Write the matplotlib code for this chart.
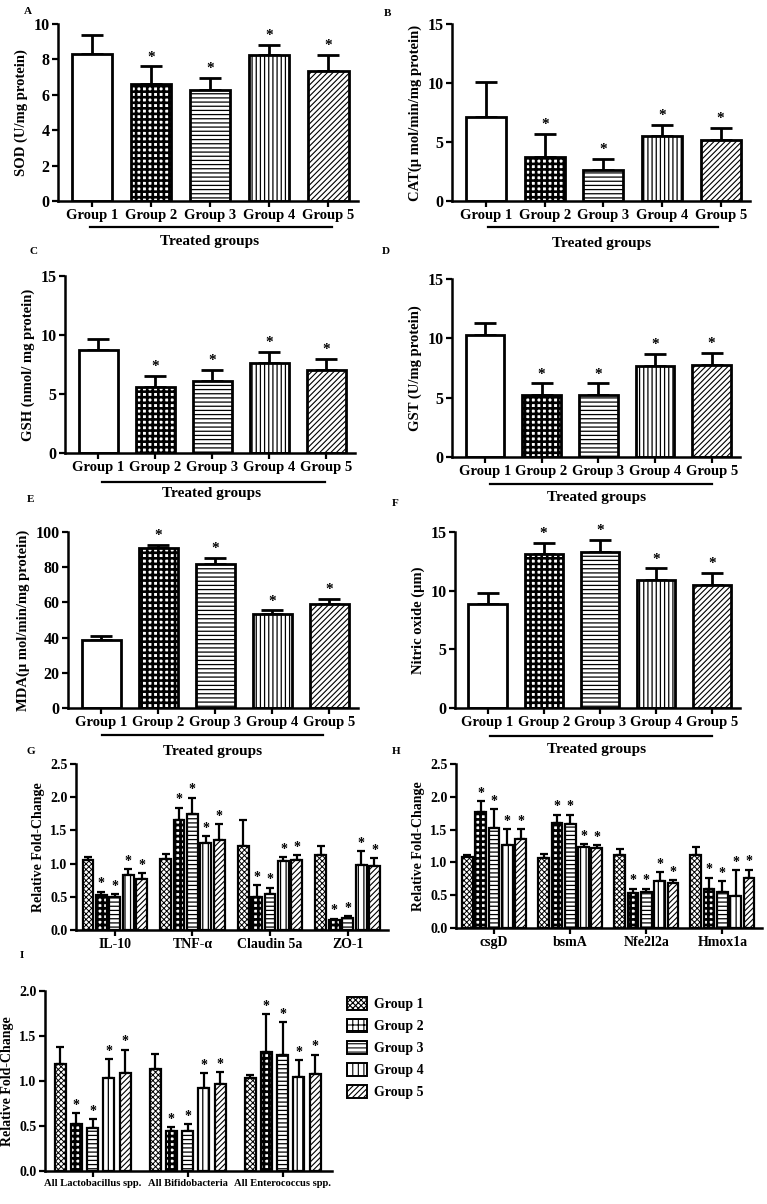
import matplotlib.pyplot as plt
import numpy as np
from matplotlib.patches import Patch

plt.rcParams['font.family'] = ['Liberation Serif', 'DejaVu Serif']
plt.rcParams['font.weight'] = 'bold'
plt.rcParams['axes.labelweight'] = 'bold'
plt.rcParams['hatch.linewidth'] = 0.9

W, H = 767, 1204

groups = ['Group 1', 'Group 2', 'Group 3', 'Group 4', 'Group 5']

# panels A-F : mean and upper SD
sod = [8.3, 6.6, 6.25, 8.25, 7.35]
sod_err = [1.1, 1.0, 0.7, 0.55, 0.9]
cat = [7.1, 3.7, 2.65, 5.5, 5.2]
cat_err = [3.0, 2.0, 0.95, 0.95, 1.0]
gsh = [8.7, 5.6, 6.1, 7.6, 7.05]
gsh_err = [0.95, 0.95, 0.95, 1.0, 0.95]
gst = [10.3, 5.25, 5.25, 7.7, 7.75]
gst_err = [1.0, 0.95, 0.95, 1.0, 1.0]
mda = [38.7, 91.0, 82.0, 53.4, 58.9]
mda_err = [2.0, 1.8, 3.4, 2.0, 3.0]
nitric = [8.84, 13.1, 13.3, 10.9, 10.5]
nitric_err = [1.0, 1.0, 1.0, 1.0, 1.0]

# panel G
genes_g = ['IL-10', 'TNF-α', 'Claudin 5a', 'ZO-1']
il10 = [1.05, 0.525, 0.50, 0.83, 0.77]
il10_err = [0.05, 0.05, 0.04, 0.09, 0.09]
tnf = [1.075, 1.66, 1.74, 1.31, 1.35]
tnf_err = [0.065, 0.18, 0.25, 0.10, 0.24]
claudin = [1.26, 0.50, 0.535, 1.035, 1.05]
claudin_err = [0.39, 0.175, 0.10, 0.065, 0.075]
zo1 = [1.13, 0.15, 0.175, 0.975, 0.96]
zo1_err = [0.14, 0.02, 0.035, 0.21, 0.125]

# panel H
genes_h = ['csgD', 'bsmA', 'Nfe2l2a', 'Hmox1a']
csgd = [1.075, 1.775, 1.525, 1.26, 1.35]
csgd_err = [0.035, 0.16, 0.285, 0.25, 0.16]
bsma = [1.06, 1.6, 1.59, 1.24, 1.22]
bsma_err = [0.065, 0.125, 0.135, 0.035, 0.04]
nfe = [1.12, 0.54, 0.555, 0.715, 0.69]
nfe_err = [0.08, 0.06, 0.045, 0.14, 0.035]
hmox = [1.12, 0.6, 0.555, 0.49, 0.765]
hmox_err = [0.11, 0.165, 0.16, 0.39, 0.125]

# panel I
bact = ['All Lactobacillus spp.', 'All Bifidobacteria', 'All Enterococcus spp.']
lacto = [1.185, 0.52, 0.483, 1.03, 1.09]
lacto_err = [0.19, 0.125, 0.09, 0.21, 0.26]
bifido = [1.13, 0.44, 0.45, 0.92, 0.963]
bifido_err = [0.17, 0.05, 0.067, 0.17, 0.137]
entero = [1.037, 1.32, 1.284, 1.044, 1.074]
entero_err = [0.026, 0.425, 0.37, 0.185, 0.22]

hatch_af = ['', '+++', '----', '||||', '//////']
hatch_gi = ['xxxxxx', '+++', '----', '|||', '//////']
hlw_af = [0.9, 1.9, 0.9, 0.9, 0.8]
hlw_gi = [0.7, 2.0, 0.9, 0.9, 0.8]

fig = plt.figure(figsize=(W / 100, H / 100), dpi=100)


def px_axes(l, t, r, b):
    return fig.add_axes([l / W, 1 - b / H, (r - l) / W, (b - t) / H])


def hatched_bar(ax, x, h, w, hatch, hlw, lw):
    plt.rcParams['hatch.linewidth'] = hlw
    bars = ax.bar(x, h, w, color='white', edgecolor='k', lw=lw, hatch=hatch, zorder=2)
    for b in bars:
        if hasattr(b, 'set_hatch_linewidth'):
            b.set_hatch_linewidth(hlw)
    return bars


def style(ax, ymax, step, fmt='{:g}', fs=11):
    for s in ['top', 'right']:
        ax.spines[s].set_visible(False)
    for s in ['left', 'bottom']:
        ax.spines[s].set_linewidth(1.8)
    ax.set_ylim(0, ymax)
    ticks = np.arange(0, ymax + step / 2, step)
    ax.set_yticks(ticks)
    ax.set_yticklabels([fmt.format(t) for t in ticks], fontsize=fs)
    ax.tick_params(width=1.6, length=4, pad=2)


def fig_line(x0, x1, y):
    fig.add_artist(plt.Line2D([x0 / W, x1 / W], [1 - y / H, 1 - y / H], color='k', lw=1.6))


def fig_text(x, y, s, **kw):
    fig.text(x / W, 1 - y / H, s, ha='center', va='center', **kw)


def simple_panel(box, vals, errs, ymax, step, ylabel, letter, line, treated):
    ax = px_axes(*box)
    x = np.arange(5)
    for i in range(5):
        hatched_bar(ax, x[i], vals[i], 0.68, hatch_af[i], hlw_af[i], 2)
    ax.errorbar(x, vals, yerr=[np.zeros(5), errs], fmt='none', ecolor='k',
                elinewidth=2, capsize=8, capthick=2, zorder=1)
    for i in range(1, 5):
        ax.annotate('*', (x[i], vals[i] + errs[i]), xytext=(0, 2), textcoords='offset points',
                    ha='center', va='bottom', fontsize=11)
    style(ax, ymax, step, fs=11.5)
    ax.set_xlim(-0.58, 4.5)
    ax.set_xticks(x)
    ax.set_xticklabels(groups, fontsize=10.5)
    ax.set_ylabel(ylabel, fontsize=10.5)
    fig_text(letter[0], letter[1], letter[2], fontsize=8)
    fig_line(line[0], line[1], line[2])
    fig_text(treated[0], treated[1], 'Treated groups', fontsize=11)
    return ax


simple_panel((58, 24, 358, 201), sod, sod_err, 10, 2, 'SOD (U/mg protein)',
             (28, 11, 'A'), (90, 332, 227), (210, 242))
simple_panel((452, 24, 750, 201), cat, cat_err, 15, 5, 'CAT(µ mol/min/mg protein)',
             (388, 14, 'B'), (488, 718, 227), (602, 243))
simple_panel((65, 276, 355, 453), gsh, gsh_err, 15, 5, 'GSH (nmol/ mg protein)',
             (33, 251, 'C'), (102, 325, 482), (212, 494))
simple_panel((452, 279, 740, 457), gst, gst_err, 15, 5, 'GST (U/mg protein)',
             (386, 251, 'D'), (490, 712, 484), (597, 498))
simple_panel((68, 532, 358, 708), mda, mda_err, 100, 20, 'MDA(µ mol/min/mg protein)',
             (31, 500, 'E'), (102, 323, 735), (213, 752))
simple_panel((455, 532, 740, 708), nitric, nitric_err, 15, 5, 'Nitric oxide (µm)',
             (395, 503, 'F'), (490, 712, 736), (597, 750))


def group_panel(box, cats, means, errs, ymax, step, width, stepx, lab_fs, letter):
    ax = px_axes(*box)
    means = np.array(means)
    errs = np.array(errs)
    c = np.arange(len(cats))
    for gi in range(5):
        xs = c + (gi - 2) * stepx
        hatched_bar(ax, xs, means[:, gi], width, hatch_gi[gi], hlw_gi[gi], 1.6)
        ax.errorbar(xs, means[:, gi], yerr=[np.zeros(len(cats)), errs[:, gi]], fmt='none',
                    ecolor='k', elinewidth=1.6, capsize=3, capthick=1.6, zorder=1)
        if gi > 0:
            for k in range(len(cats)):
                ax.annotate('*', (xs[k], means[k, gi] + errs[k, gi]), xytext=(0, 1),
                            textcoords='offset points', ha='center', va='bottom', fontsize=10)
    style(ax, ymax, step, '{:.1f}', fs=10)
    ax.set_xlim(-0.5, len(cats) - 0.48)
    ax.set_xticks(c)
    ax.set_xticklabels(cats, fontsize=lab_fs)
    ax.set_ylabel('Relative Fold-Change', fontsize=10)
    fig_text(letter[0], letter[1], letter[2], fontsize=8)
    return ax


group_panel((76, 764, 388, 930), genes_g, [il10, tnf, claudin, zo1],
            [il10_err, tnf_err, claudin_err, zo1_err], 2.5, 0.5, 0.14, 0.173, 10, (31, 751, 'G'))
group_panel((456, 764, 762, 928), genes_h, [csgd, bsma, nfe, hmox],
            [csgd_err, bsma_err, nfe_err, hmox_err], 2.5, 0.5, 0.14, 0.175, 10, (396, 751, 'H'))
axi = group_panel((45, 991, 332, 1171), bact, [lacto, bifido, entero],
                  [lacto_err, bifido_err, entero_err], 2.0, 0.5, 0.116, 0.171, 7.6, (22, 956, 'I'))

handles = []
for i in range(5):
    plt.rcParams['hatch.linewidth'] = hlw_gi[i]
    p = Patch(facecolor='white', edgecolor='k', lw=1.4, hatch=hatch_gi[i])
    if hasattr(p, 'set_hatch_linewidth'):
        p.set_hatch_linewidth(hlw_gi[i])
    handles.append(p)
fig.legend(handles, groups, loc='upper left', bbox_to_anchor=(334 / W, 1 - 984 / H),
           frameon=False, fontsize=10, handlelength=1.5, handleheight=1.1,
           labelspacing=0.55, handletextpad=0.5)

fig.savefig('out.png', dpi=100)
